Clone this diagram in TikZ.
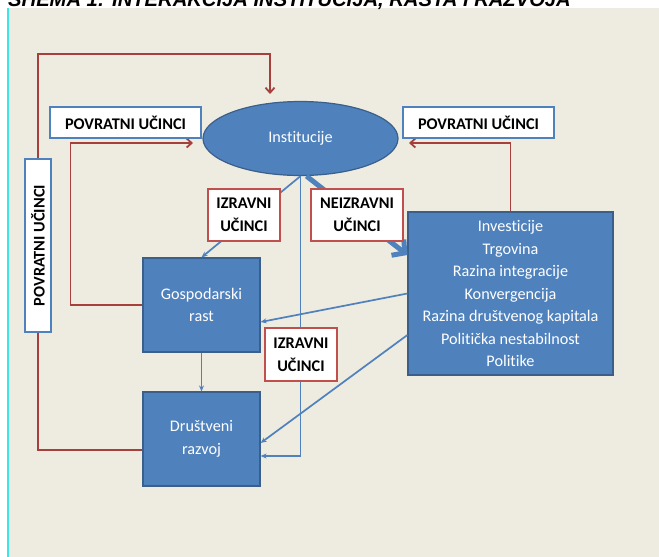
\documentclass[tikz,border=0pt]{standalone}
\usepackage{fontspec}
\setmainfont{Carlito}[Ligatures=NoCommon]
\newfontfamily\titlefont{Liberation Sans}
\usetikzlibrary{arrows.meta,shapes.geometric}

\definecolor{bgbeige}{HTML}{EEEBE0}
\definecolor{boxblue}{HTML}{4F81BD}
\definecolor{edgeblue}{HTML}{3A5F8B}
\definecolor{fbred}{HTML}{A5403D}
\definecolor{boxred}{HTML}{C0504D}
\definecolor{edgecyan}{HTML}{3FE3EA}

\tikzset{
  bluebox/.style={draw=edgeblue,fill=boxblue,line width=1.2pt,text=white,
    inner sep=0pt,align=center,font=\fontsize{16.2}{22.5}\selectfont},
  fbbox/.style={draw=boxblue,fill=white,line width=1.5pt,inner sep=0pt,
    font=\bfseries\fontsize{16.3}{19}\selectfont},
  effbox/.style={draw=boxred,fill=white,line width=1.5pt,inner sep=0pt,
    align=center,font=\bfseries\fontsize{16.3}{23}\selectfont},
  fb/.style={draw=fbred,line width=1.8pt},
  fbarrow/.style={fb,-{Straight Barb[length=5pt,width=9pt,line width=1.8pt]}},
  link/.style={draw=boxblue,line width=1.7pt,-{Stealth[length=6pt,width=5pt]}},
}

\begin{document}
\begin{tikzpicture}[x=1pt,y=-1pt]
\useasboundingbox (0,0) rectangle (659,557);
\fill[white] (0,0) rectangle (659,557);
\fill[bgbeige] (8,8) rectangle (659,557);
\draw[edgecyan,line width=1.2pt] (8,8) -- (8,557);
\node[anchor=base west,inner sep=0pt,font=\titlefont\bfseries\itshape\fontsize{20.2}{24}\selectfont]
  (title) at (8,6.5) {SHEMA 1: INTERAKCIJA INSTITUCIJA, RASTA I RAZVOJA};

% main blocks
\node[bluebox,ellipse,minimum width=195pt,minimum height=74pt] (inst) at (300.5,138.5) {Institucije};
\node[bluebox,minimum width=117pt,minimum height=94pt] (gosp) at (201.5,305) {Gospodarski\\rast};
\node[bluebox,minimum width=117pt,minimum height=94pt] (drus) at (201.5,439) {Društveni\\razvoj};
\node[bluebox,minimum width=205pt,minimum height=163pt] (fakt) at (510.5,293.5)
  {Investicije\\Trgovina\\Razina integracije\\Konvergencija\\Razina društvenog kapitala\\Politička nestabilnost\\Politike};
\node[fbbox,rotate=90,minimum width=173pt,minimum height=26pt] (povV) at (38,245.5) {POVRATNI UČINCI};

\coordinate (t1) at (270,94);
\coordinate (t2) at (193,143);
\coordinate (t3) at (409,143);

% feedback
\draw[fbarrow] (povV.east) -- ++(0,-104) -| (t1);
\draw[fb] (povV.west) |- ([yshift=-11pt]drus.west);
\draw[fbarrow] (gosp.west) -| ++(-72,-162) -- (t2);
\draw[fbarrow] (fakt.north) |- (t3);

% effects
\draw[link] (inst.south) -- (gosp.north);
\draw[link] (inst.south) |- ([yshift=-17pt]drus.east);
\draw[draw=boxblue,line width=5pt,-{Straight Barb[length=9pt,width=20pt,line width=5pt]}]
  ([xshift=6pt]inst.south) -- ([yshift=38.5pt]fakt.west);
\draw[link] (fakt.west) -- ([yshift=-17pt]gosp.east);
\draw[link] ([yshift=-41.5pt]fakt.west) -- ([yshift=-4pt]drus.east);
\draw[link] (gosp.south) -- (drus.north);

% labels
\node[fbbox,minimum width=151pt,minimum height=31pt] (povL) at (125.5,122.5) {POVRATNI UČINCI};
\node[fbbox,minimum width=151pt,minimum height=31pt] (povR) at (478.5,122.5) {POVRATNI UČINCI};
\node[effbox,minimum width=72pt,minimum height=52pt] (izr1) at (244,215) {IZRAVNI\\UČINCI};
\node[effbox,minimum width=92pt,minimum height=52pt] (neiz) at (357,215) {NEIZRAVNI\\UČINCI};
\node[effbox,minimum width=72pt,minimum height=53pt] (izr2) at (301,354.5) {IZRAVNI\\UČINCI};
\end{tikzpicture}
\end{document}
